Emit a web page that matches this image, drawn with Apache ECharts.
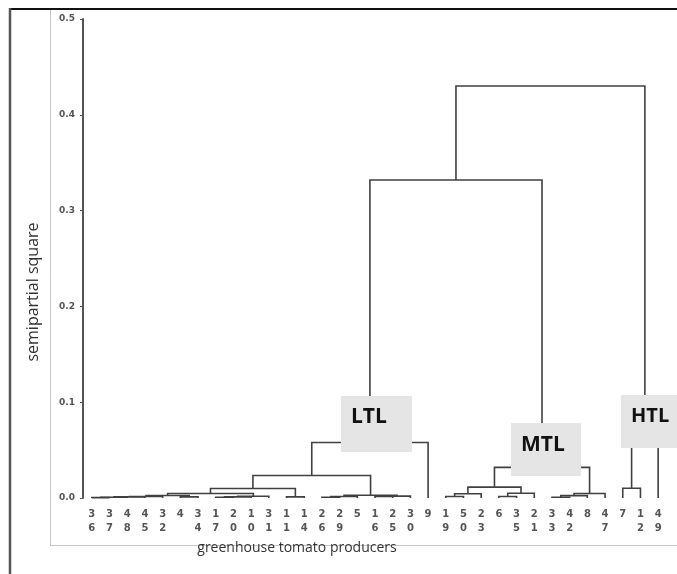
<!DOCTYPE html>
<html>
<head>
<meta charset="utf-8">
<script src="https://cdn.jsdelivr.net/npm/echarts@6/dist/echarts.min.js"></script>
<style>html,body{margin:0;padding:0;background:#fff;}#c{width:677px;height:574px;}</style>
</head>
<body>
<div id="c"></div>
<script>
// Leaves in display order (producer numbers)
const leafLabels = ['36','37','48','45','32','4','34','17','20','10','31','11','14','26','29','5','16','25','30','9','19','50','23','6','35','21','33','42','8','47','7','12','49'];
// Linkage: ids 0..32 are leaves, merge k creates node 33+k
const mergeLeft   = [0, 33, 34, 35, 5, 36, 7, 39, 40, 38, 11, 42, 13, 45, 16, 47, 46, 44, 50, 20, 52, 23, 54, 53, 26, 57, 58, 56, 30, 61, 51, 63];
const mergeRight  = [1, 2, 3, 4, 6, 37, 8, 9, 10, 41, 12, 43, 14, 15, 17, 18, 48, 49, 19, 21, 22, 24, 25, 55, 27, 28, 29, 59, 31, 32, 60, 62];
const mergeHeight = [0.0004, 0.0008, 0.0012, 0.0015, 0.0012, 0.0026, 0.0008, 0.0012, 0.0018, 0.0047, 0.0012, 0.0099, 0.0008, 0.0015, 0.0015, 0.0020, 0.0028, 0.0235, 0.058, 0.0015, 0.0044, 0.0015, 0.0050, 0.0113, 0.0008, 0.0025, 0.0047, 0.032, 0.0102, 0.080, 0.332, 0.430];
const yTicks = [0, 0.1, 0.2, 0.3, 0.4, 0.5];
const clusterNames = ['LTL', 'MTL', 'HTL'];

// build segments from linkage
const n = leafLabels.length;
const nodeX = leafLabels.map((_, i) => i);
const nodeH = leafLabels.map(() => 0);
const segs = [];
for (let k = 0; k < mergeLeft.length; k++) {
  const a = mergeLeft[k], b = mergeRight[k], h = mergeHeight[k];
  segs.push([nodeX[a], nodeH[a], nodeX[b], nodeH[b], h]);
  nodeX.push((nodeX[a] + nodeX[b]) / 2);
  nodeH.push(h);
}

const chart = echarts.init(document.getElementById('c'), null, {renderer: 'canvas'});
const boxStyle = {fill: '#e5e5e5'};
const boxText = (t) => ({fill: '#111', font: 'bold 21px "Open Sans"', text: t});
chart.setOption({
  animation: false,
  backgroundColor: '#fff',
  grid: {left: 83, right: 10, top: 19, bottom: 76, containLabel: false},
  xAxis: [
    {type: 'value', min: -0.5, max: n - 0.5, show: false},
    {type: 'category', data: leafLabels, boundaryGap: true, position: 'bottom',
     axisLine: {show: false}, axisTick: {show: false}, splitLine: {show: false},
     axisLabel: {interval: 0, margin: 9, color: '#555', fontSize: 10, fontWeight: 'bold',
       fontFamily: 'DejaVu Sans', lineHeight: 14,
       formatter: v => v.length > 1 ? v[0] + '\n' + v[1] : v}}
  ],
  yAxis: {type: 'value', min: yTicks[0], max: yTicks[yTicks.length - 1], interval: 0.1, position: 'left',
    axisLine: {show: true, onZero: false, lineStyle: {color: '#555', width: 2}},
    axisTick: {show: true, length: 3, lineStyle: {color: '#555', width: 1}},
    splitLine: {show: false},
    axisLabel: {margin: 8, color: '#555', fontSize: 9, fontWeight: 'bold', fontFamily: 'DejaVu Sans',
      formatter: v => v.toFixed(1)}},
  series: [{
    type: 'custom',
    xAxisIndex: 0,
    yAxisIndex: 0,
    data: segs,
    encode: {x: [0, 2], y: [1, 3, 4]},
    renderItem: function (params, api) {
      const p1 = api.coord([api.value(0), api.value(1)]);
      const p2 = api.coord([api.value(0), api.value(4)]);
      const p3 = api.coord([api.value(2), api.value(4)]);
      const p4 = api.coord([api.value(2), api.value(3)]);
      return {type: 'polyline', shape: {points: [p1, p2, p3, p4]},
        style: {stroke: '#404040', lineWidth: 1.6, fill: null}};
    }
  }],
  graphic: [
    {type: 'line', z: 0, shape: {x1: 10, y1: 9, x2: 677, y2: 9}, style: {stroke: '#111', lineWidth: 2}},
    {type: 'line', z: 0, shape: {x1: 10, y1: 8, x2: 10, y2: 574}, style: {stroke: '#555', lineWidth: 2.5}},
    {type: 'line', z: 0, shape: {x1: 50.5, y1: 10, x2: 50.5, y2: 545.5}, style: {stroke: '#c8c8c8', lineWidth: 1}},
    {type: 'line', z: 0, shape: {x1: 50, y1: 545.5, x2: 677, y2: 545.5}, style: {stroke: '#c8c8c8', lineWidth: 1}},
    {type: 'text', z: 10, x: 33, y: 292, rotation: Math.PI / 2,
      style: {text: 'semipartial square', fill: '#333', font: '16px "Open Sans"', align: 'center', verticalAlign: 'middle'}},
    {type: 'text', z: 10, x: 297, y: 548,
      style: {text: 'greenhouse tomato producers', fill: '#333', font: '14px "Open Sans"', align: 'center', verticalAlign: 'middle'}},
    {type: 'group', z: 100, children: [
      {type: 'rect', z: 100, shape: {x: 341, y: 396, width: 71, height: 56}, style: boxStyle},
      {type: 'text', z: 101, x: 351, y: 417, style: Object.assign(boxText(clusterNames[0]), {verticalAlign: 'middle'})},
      {type: 'rect', z: 100, shape: {x: 511, y: 423, width: 70, height: 53}, style: boxStyle},
      {type: 'text', z: 101, x: 521, y: 445, style: Object.assign(boxText(clusterNames[1]), {verticalAlign: 'middle'})},
      {type: 'rect', z: 100, shape: {x: 621, y: 395, width: 56, height: 53}, style: boxStyle},
      {type: 'text', z: 101, x: 631, y: 416, style: Object.assign(boxText(clusterNames[2]), {verticalAlign: 'middle', font: 'bold 20px "Open Sans"'})}
    ]}
  ]
});
</script>
</body>
</html>
